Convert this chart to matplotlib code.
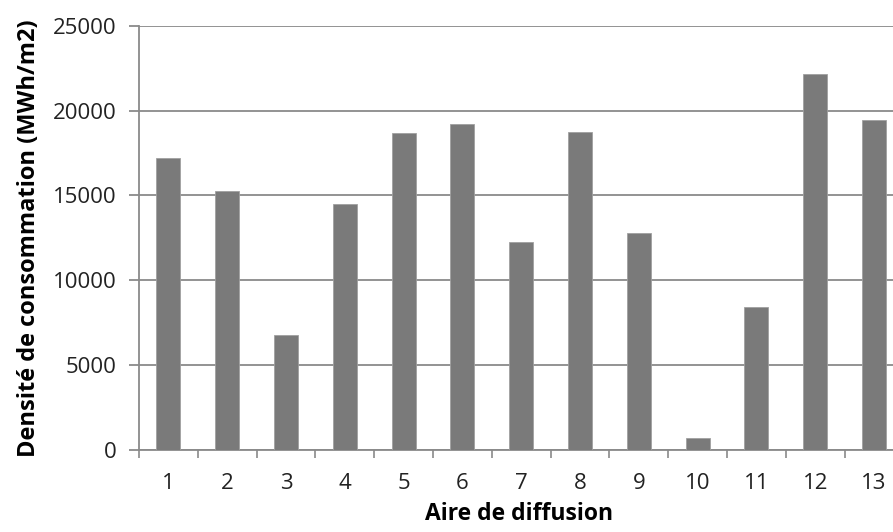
import numpy as np
import matplotlib.pyplot as plt
from matplotlib.ticker import FixedLocator, MultipleLocator

# consommation par aire de diffusion
aires = ["1", "2", "3", "4", "5", "6", "7", "8", "9", "10", "11", "12", "13"]
densite = [17200, 15250, 6770, 14470, 18700, 19230, 12260, 18770, 12790, 710, 8400, 22140, 19460]

plt.rcParams['font.family'] = ['Open Sans', 'DejaVu Sans']

fig = plt.figure(figsize=(8.93, 5.32), dpi=100)
# the plot area runs slightly past the right edge of the figure
ax = fig.add_axes([139 / 893, 1 - 449.7 / 532, (903.4 - 139) / 893, (449.7 - 26) / 532])

x = np.arange(len(aires))
ax.bar(x, densite, width=0.41, color='#7a7a7a', edgecolor='#a0a0a0', linewidth=0.6, zorder=3)

ax.set_xlim(-0.5, len(aires) - 0.5)
ax.set_ylim(0, 25000)
ax.yaxis.set_major_locator(MultipleLocator(5000))
ax.grid(axis='y', color='#8a8a8a', linewidth=1.3, zorder=0)

# ticks between categories, labels centred under each bar
ax.set_xticks(x)
ax.set_xticklabels(aires)
ax.xaxis.set_minor_locator(FixedLocator(np.arange(-0.5, len(aires), 1.0)))
ax.tick_params(axis='x', which='major', length=0, pad=17, labelsize=16, colors='#222222')
ax.tick_params(axis='x', which='minor', length=6, width=1.2, color='#8a8a8a', direction='out')
ax.tick_params(axis='y', length=7, width=1.3, color='#8a8a8a', pad=9, labelsize=16, colors='#222222')

for side in ['top', 'right']:
    ax.spines[side].set_visible(False)
for side in ['left', 'bottom']:
    ax.spines[side].set_color('#8a8a8a')
    ax.spines[side].set_linewidth(1.3)

ax.set_xlabel("Aire de diffusion", fontsize=16.5, fontweight='bold')
ax.set_ylabel("Densité de consommation (MWh/m2)", fontsize=17, fontweight='bold')
ax.xaxis.set_label_coords((519 - 139) / (903.4 - 139), -0.124)
ax.yaxis.set_label_coords(-0.128, 0.5)

fig.savefig("out.png", dpi=100)
